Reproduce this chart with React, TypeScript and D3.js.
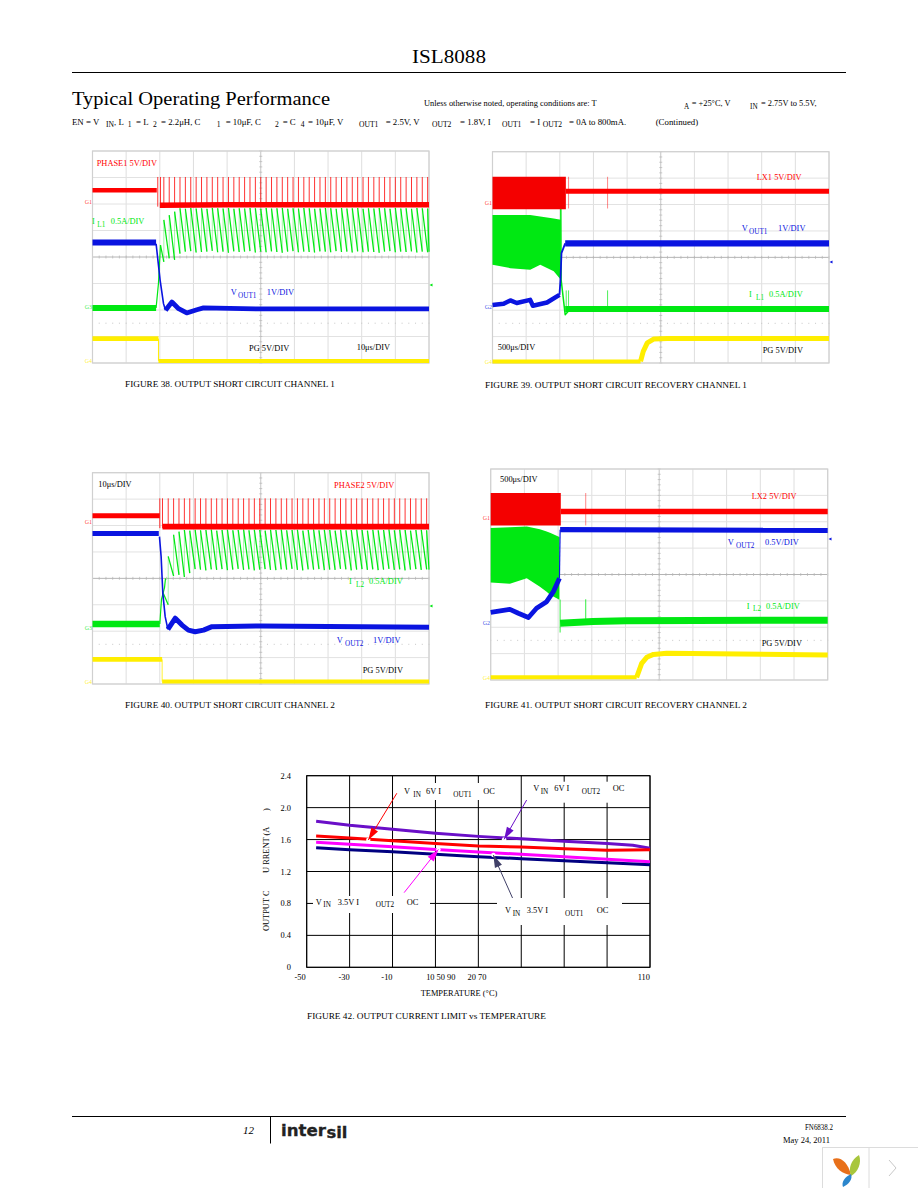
import * as d3 from "d3";

type Pt = [number, number];

// scope traces are in screen divisions: t 0..10 left to right, v 0..8 bottom to top
const pulses38 = [1.94, 2.02, 2.12, 2.28, 2.44, 2.6, 2.76, 2.92, 3.08, 3.24, 3.4, 3.56, 3.72, 3.88, 4.04, 4.2, 4.36, 4.52, 4.68, 4.84, 5.0, 5.16, 5.32, 5.48, 5.64, 5.8, 5.96, 6.12, 6.28, 6.44, 6.6, 6.76, 6.92, 7.08, 7.24, 7.4, 7.56, 7.72, 7.88, 8.04, 8.2, 8.36, 8.52, 8.68, 8.84, 9.0, 9.16, 9.32, 9.48, 9.64, 9.8, 9.96];
const peaks38 = [4.45, 5.4, 5.58, 5.71, 5.84, 5.82, 5.85, 5.83, 5.84, 5.82, 5.85, 5.84, 5.83, 5.85, 5.82, 5.84, 5.83, 5.85, 5.84, 5.82, 5.85, 5.83, 5.84, 5.85, 5.82, 5.84, 5.83, 5.85, 5.84, 5.82, 5.83, 5.85, 5.84, 5.82, 5.85, 5.83, 5.84, 5.85, 5.82, 5.84, 5.83, 5.85, 5.84, 5.82, 5.85, 5.83, 5.84, 5.82, 5.85, 5.84, 5.83];
const troughs38 = [3.82, 3.95, 3.89, 4.13, 4.2, 4.22, 4.17, 4.19, 4.2, 4.23, 4.18, 4.2, 4.16, 4.21, 4.19, 4.2, 4.22, 4.17, 4.2, 4.18, 4.21, 4.19, 4.16, 4.2, 4.22, 4.18, 4.2, 4.19, 4.17, 4.21, 4.2, 4.18, 4.22, 4.19, 4.2, 4.17, 4.21, 4.18, 4.2, 4.19, 4.16, 4.2, 4.22, 4.18, 4.2, 4.19, 4.21, 4.17, 4.2, 4.18, 4.2];
const redBefore38: Pt[] = [[0, 6.52], [1.91, 6.52]];
const redAfter38: Pt[] = [[2.0, 5.95], [4, 5.97], [10, 5.97]];
const blueBefore38: Pt[] = [[0, 4.55], [1.89, 4.55]];
const blueFall38: Pt[] = [[1.89, 4.5], [2.01, 3.12], [2.11, 2.24], [2.17, 1.99]];
const blueAfter38: Pt[] = [[2.17, 1.99], [2.36, 2.3], [2.56, 2.05], [2.8, 1.89], [3.1, 2.01], [3.3, 2.08], [4.99, 2.04], [6.97, 2.04], [10, 2.04]];
const greenBefore38: Pt[] = [[0, 2.08], [1.89, 2.08]];
const greenRise38: Pt[] = [[1.89, 2.08], [1.96, 3.0], [2.02, 4.45]];
const yellowBefore38: Pt[] = [[0, 0.92], [1.96, 0.92]];
const yellowDrop38: Pt[] = [[1.96, 0.92], [1.96, 0.08]];
const yellowAfter38: Pt[] = [[1.96, 0.08], [10, 0.08]];

const redBlock39: [number, number, number][] = [[0, 5.82, 7.05], [2.18, 5.82, 7.05]];
const redAfter39: Pt[] = [[2.18, 6.5], [10, 6.5]];
const redSpikes39 = [2.26, 3.42];
const greenBlock39: [number, number, number][] = [[0, 3.72, 5.6], [0.53, 3.59, 5.6], [1.12, 3.53, 5.6], [1.42, 3.72, 5.55], [1.82, 3.47, 5.47], [2.03, 3.15, 5.42]];
const greenFall39: Pt[] = [[2.03, 5.95], [2.04, 3.15], [2.16, 1.83], [2.3, 2.03]];
const greenAfter39: Pt[] = [[2.16, 2.04], [10, 2.04]];
const greenSpikes39 = [2.19, 2.26, 3.42];
const blueBefore39: Pt[] = [[0, 2.2], [0.33, 2.24], [0.53, 2.37], [0.72, 2.27], [1.12, 2.39], [1.2, 2.17], [1.62, 2.29], [1.99, 2.58]];
const blueRise39: Pt[] = [[1.99, 2.58], [2.02, 3.15], [2.05, 4.16], [2.16, 4.53]];
const blueAfter39: Pt[] = [[2.16, 4.53], [10, 4.53]];
const yellowBefore39: Pt[] = [[0, 0.06], [4.4, 0.06]];
const yellowRise39: Pt[] = [[4.4, 0.06], [4.48, 0.44], [4.6, 0.76], [4.8, 0.91], [5.19, 0.93], [10, 0.93]];

const pulses40 = [2.0, 2.08, 2.25, 2.41, 2.57, 2.73, 2.89, 3.05, 3.21, 3.37, 3.53, 3.69, 3.85, 4.01, 4.17, 4.33, 4.49, 4.65, 4.81, 4.97, 5.13, 5.29, 5.45, 5.61, 5.77, 5.93, 6.09, 6.25, 6.41, 6.57, 6.73, 6.89, 7.05, 7.21, 7.37, 7.53, 7.69, 7.85, 8.01, 8.17, 8.33, 8.49, 8.65, 8.81, 8.97, 9.13, 9.29, 9.45, 9.61, 9.77, 9.93];
const peaks40 = [3.5, 4.83, 5.65, 5.77, 5.83, 5.81, 5.84, 5.82, 5.83, 5.85, 5.81, 5.83, 5.84, 5.82, 5.83, 5.85, 5.82, 5.84, 5.83, 5.81, 5.84, 5.83, 5.85, 5.82, 5.83, 5.84, 5.81, 5.83, 5.85, 5.82, 5.84, 5.83, 5.81, 5.84, 5.82, 5.83, 5.85, 5.83, 5.81, 5.84, 5.82, 5.83, 5.85, 5.82, 5.84, 5.83, 5.81, 5.83, 5.84, 5.82];
const troughs40 = [3.0, 4.09, 4.13, 4.05, 4.2, 4.35, 4.33, 4.3, 4.34, 4.32, 4.35, 4.31, 4.33, 4.36, 4.32, 4.34, 4.3, 4.33, 4.35, 4.32, 4.31, 4.34, 4.33, 4.36, 4.32, 4.3, 4.34, 4.33, 4.35, 4.31, 4.33, 4.32, 4.36, 4.34, 4.3, 4.33, 4.35, 4.32, 4.34, 4.31, 4.33, 4.36, 4.32, 4.34, 4.3, 4.33, 4.35, 4.32, 4.34, 4.33];
const redBefore40: Pt[] = [[0, 6.37], [2.0, 6.37]];
const redAfter40: Pt[] = [[2.08, 5.96], [10, 5.96]];
const blueBefore40: Pt[] = [[0, 5.7], [1.97, 5.7]];
const blueFall40: Pt[] = [[1.99, 5.58], [2.04, 4.82], [2.09, 3.43], [2.16, 2.55], [2.24, 2.07]];
const blueAfter40: Pt[] = [[2.24, 2.07], [2.46, 2.49], [2.66, 2.23], [2.85, 2.04], [3.05, 1.98], [3.3, 2.04], [3.55, 2.17], [4.99, 2.2], [10, 2.15]];
const greenBefore40: Pt[] = [[0, 2.27], [2.0, 2.27]];
const greenRise40: Pt[] = [[2.0, 2.27], [2.05, 3.2], [2.14, 3.65], [2.17, 4.0]];
const yellowBefore40: Pt[] = [[0, 0.93], [2.07, 0.93]];
const yellowDrop40: Pt[] = [[2.07, 0.93], [2.07, 0.09]];
const yellowAfter40: Pt[] = [[2.07, 0.09], [10, 0.09]];

const redBlock41: [number, number, number][] = [[0, 5.86, 7.09], [2.08, 5.86, 7.09]];
const redAfter41: Pt[] = [[2.08, 6.39], [10, 6.39]];
const redSpikes41 = [2.82];
const greenBlock41: [number, number, number][] = [[0, 3.7, 5.76], [0.57, 3.65, 5.79], [1.07, 3.86, 5.82], [1.46, 3.54, 5.72], [1.66, 3.35, 5.63], [1.76, 3.23, 5.58], [2.04, 3.04, 5.42]];
const blueBefore41: Pt[] = [[0, 2.56], [0.57, 2.68], [0.82, 2.53], [1.12, 2.37], [1.36, 2.72], [1.66, 2.97], [1.86, 3.35], [2.04, 3.86]];
const blueRise41: Pt[] = [[2.04, 3.86], [2.06, 5.7]];
const blueAfter41: Pt[] = [[2.06, 5.7], [10, 5.67]];
const greenAfter41: Pt[] = [[2.06, 2.15], [3.03, 2.22], [4.02, 2.25], [10, 2.27]];
const greenSpikes41: [number, number, number][] = [[2.06, 1.8, 3.05], [2.82, 2.2, 3.06]];
const yellowBefore41: Pt[] = [[0, 0.1], [4.33, 0.1]];
const yellowRise41: Pt[] = [[4.33, 0.1], [4.48, 0.63], [4.63, 0.86], [4.83, 0.97], [5.22, 1.01], [10, 0.95]];

// figure 42
const tempTicks = [-50, -30, -10, 10, 30, 50, 70, 90, 110];
const tempLabels = ["-50", "-30", "-10", "10 50 90", "20 70", "", "", "", "110"];
const currentTicks = [0, 0.4, 0.8, 1.2, 1.6, 2.0, 2.4];
const currentLabels = ["0", "0.4", "0.8", "1.2", "1.6", "2.0", "2.4"];
const tempC = [-45.6, -30, -10, 10, 30, 50, 70, 90, 110];
const tempPurple = [-45.6, -30, -10, 10, 30, 50, 70, 90, 102, 110];
const vin6Out2 = [1.83, 1.78, 1.73, 1.68, 1.64, 1.61, 1.58, 1.55, 1.53, 1.49];
const vin6Out1 = [1.645, 1.62, 1.585, 1.55, 1.52, 1.507, 1.486, 1.465, 1.473];
const vin35Out2 = [1.565, 1.54, 1.51, 1.477, 1.444, 1.415, 1.386, 1.352, 1.323];
const vin35Out1 = [1.498, 1.473, 1.448, 1.415, 1.386, 1.36, 1.336, 1.31, 1.286];
// tail and tip of each callout arrow, temperature and current
const arrowRed = [[-8, 2.18], [-21.3, 1.594]];
const arrowPurple = [[52.5, 2.095], [42, 1.603]];
const arrowMagenta = [[-4.6, 0.935], [11.4, 1.477]];
const arrowNavy = [[46, 0.864], [37, 1.406]];

const RED = "#ff0000";
const GREEN = "#00e812";
const BLUE = "#0a14e0";
const YELLOW = "#ffee00";
const SERIF = "'Liberation Serif', serif";

type Frame = { left: number; top: number; right: number; bottom: number };

function scalesFor(f: Frame) {
  return {
    x: d3.scaleLinear().domain([0, 10]).range([f.left, f.right]),
    y: d3.scaleLinear().domain([0, 8]).range([f.bottom, f.top]),
  };
}

function Txt({ x, y, size = 8.4, fill = "#000", len, style, children }: any) {
  return (
    <text
      x={x}
      y={y}
      fontFamily={SERIF}
      fontSize={size}
      fill={fill}
      fontStyle={style}
      textLength={len}
      lengthAdjust={len ? "spacingAndGlyphs" : undefined}
    >
      {children}
    </text>
  );
}

// a run of text pieces at given x, pieces marked sub sit lower and smaller
function Run({ y, fill = "#000", parts, size = 8.4 }: { y: number; fill?: string; parts: [string, number, boolean?][]; size?: number }) {
  return (
    <g>
      {parts.map(([s, x, sub], i) => (
        <text key={i} x={x} y={sub ? y + 2.5 : y} fontFamily={SERIF} fontSize={sub ? size - 1.2 : size} fill={fill}>
          {s}
        </text>
      ))}
    </g>
  );
}

function Grid({ f }: { f: Frame }) {
  const { x, y } = scalesFor(f);
  const minor = d3.range(0, 10.01, 0.2);
  const minorY = d3.range(0, 8.01, 0.2);
  return (
    <g>
      {x.ticks(10).map((t) => (
        <line key={"v" + t} x1={x(t)} x2={x(t)} y1={f.top} y2={f.bottom} stroke={t === 5 ? "#c4c4c4" : "#dedede"} strokeWidth={1} />
      ))}
      {y.ticks(8).map((t) => (
        <line key={"h" + t} x1={f.left} x2={f.right} y1={y(t)} y2={y(t)} stroke={t === 4 ? "#b4b4b4" : "#e2e2e2"} strokeWidth={1} />
      ))}
      {minor.map((t) => (
        <line key={"m" + t} x1={x(t)} x2={x(t)} y1={y(4) - 1.5} y2={y(4) + 1.5} stroke="#b4b4b4" strokeWidth={0.7} />
      ))}
      {minorY.map((t) => (
        <line key={"n" + t} x1={x(5) - 1.5} x2={x(5) + 1.5} y1={y(t)} y2={y(t)} stroke="#b4b4b4" strokeWidth={0.7} />
      ))}
      {minor.map((t) => (
        <line key={"d" + t} x1={x(t)} x2={x(t)} y1={y(1.5) - 0.6} y2={y(1.5) + 0.6} stroke="#c4c4c4" strokeWidth={0.8} />
      ))}
      <rect x={f.left} y={f.top} width={f.right - f.left} height={f.bottom - f.top} fill="none" stroke="#d0d0d0" strokeWidth={1.2} />
    </g>
  );
}

function Scope({ f, children }: { f: Frame; children: any }) {
  return (
    <g>
      <Grid f={f} />
      {children}
    </g>
  );
}

function Trace({ f, data, color, w }: { f: Frame; data: Pt[]; color: string; w: number }) {
  const { x, y } = scalesFor(f);
  const line = d3.line<Pt>().x((d) => x(d[0])).y((d) => y(d[1]));
  return <path d={line(data) ?? ""} fill="none" stroke={color} strokeWidth={w} strokeLinejoin="round" />;
}

function Block({ f, data, color }: { f: Frame; data: [number, number, number][]; color: string }) {
  const { x, y } = scalesFor(f);
  const area = d3.area<[number, number, number]>().x((d) => x(d[0])).y0((d) => y(d[1])).y1((d) => y(d[2]));
  return <path d={area(data) ?? ""} fill={color} />;
}

function Pulses({ f, times, top, base, color }: { f: Frame; times: number[]; top: number; base: number; color: string }) {
  const { x, y } = scalesFor(f);
  return (
    <g>
      {times.map((t, i) => (
        <line key={i} x1={x(t)} x2={x(t)} y1={y(top)} y2={y(base)} stroke={color} strokeOpacity={0.8} strokeWidth={1} />
      ))}
    </g>
  );
}

// inductor current: fast thin rise at each pulse, slower bright fall to the next one
function Teeth({ f, times, peaks, troughs }: { f: Frame; times: number[]; peaks: number[]; troughs: number[] }) {
  const { x, y } = scalesFor(f);
  const line = d3.line<Pt>().x((d) => x(d[0])).y((d) => y(d[1]));
  const falls = peaks.map((p, i): Pt[] => [[times[i], p], [times[i + 1] ?? 10, troughs[i]]]);
  const rises = peaks.slice(1).map((p, i): Pt[] => [[times[i + 1], troughs[i]], [times[i + 1], p]]);
  return (
    <g>
      {rises.map((d, i) => (
        <path key={"r" + i} d={line(d) ?? ""} stroke={GREEN} strokeOpacity={0.45} strokeWidth={0.8} fill="none" />
      ))}
      {falls.map((d, i) => (
        <path key={"f" + i} d={line(d) ?? ""} stroke={GREEN} strokeWidth={1.25} fill="none" />
      ))}
    </g>
  );
}

function Marker({ x, y, fill, children }: any) {
  return (
    <text x={x} y={y} fontFamily={SERIF} fontSize={6} fill={fill} fillOpacity={0.8} textAnchor="end">
      {children}
    </text>
  );
}

function RightMark({ x, y, fill }: any) {
  return <path d={`M${x - 1.5},${y}L${x + 1.5},${y - 1.5}L${x + 1.5},${y + 1.5}Z`} fill={fill} />;
}

function Fig38() {
  const f = { left: 92.5, top: 151, right: 429, bottom: 363 };
  return (
    <Scope f={f}>
      <Teeth f={f} times={pulses38.slice(1)} peaks={peaks38} troughs={troughs38} />
      <Trace f={f} data={greenRise38} color={GREEN} w={1.2} />
      <Trace f={f} data={greenBefore38} color={GREEN} w={6} />
      <Pulses f={f} times={pulses38} top={7.02} base={5.9} color={RED} />
      <Trace f={f} data={redBefore38} color={RED} w={4.5} />
      <Trace f={f} data={redAfter38} color={RED} w={5.5} />
      <Trace f={f} data={blueBefore38} color={BLUE} w={6} />
      <Trace f={f} data={blueFall38} color={BLUE} w={1.6} />
      <Trace f={f} data={blueAfter38} color={BLUE} w={4.8} />
      <Trace f={f} data={yellowBefore38} color={YELLOW} w={4.8} />
      <Trace f={f} data={yellowDrop38} color={YELLOW} w={1} />
      <Trace f={f} data={yellowAfter38} color={YELLOW} w={4} />
      <Marker x={92} y={204} fill={RED}>G1</Marker>
      <Marker x={92} y={309} fill={GREEN}>G3</Marker>
      <Marker x={92} y={363} fill={YELLOW}>G4</Marker>
      <RightMark x={431} y={285} fill={GREEN} />
      <Run y={166} fill={RED} parts={[["PHASE1 5V/DIV", 96.7]]} />
      <Run y={224} fill={GREEN} parts={[["I", 92], ["L1", 97.3, true], ["0.5A/DIV", 110.7]]} />
      <Run y={295} fill={BLUE} parts={[["V", 230.7], ["OUT1", 238, true], ["1V/DIV", 266.7]]} />
      <Run y={350.5} parts={[["PG 5V/DIV", 249]]} />
      <Run y={350} parts={[["10μs/DIV", 356.7]]} />
    </Scope>
  );
}

function Fig39() {
  const f = { left: 492.5, top: 151.7, right: 829, bottom: 363 };
  const { x, y } = scalesFor(f);
  return (
    <Scope f={f}>
      <Block f={f} data={greenBlock39} color={GREEN} />
      <Trace f={f} data={greenFall39} color={GREEN} w={1.5} />
      <Trace f={f} data={greenAfter39} color={GREEN} w={6} />
      {greenSpikes39.map((t) => (
        <line key={t} x1={x(t)} x2={x(t)} y1={y(2.04)} y2={y(2.75)} stroke={GREEN} strokeWidth={0.7} />
      ))}
      <Block f={f} data={redBlock39} color="#f40000" />
      <Trace f={f} data={redAfter39} color={RED} w={5} />
      {redSpikes39.map((t) => (
        <line key={t} x1={x(t)} x2={x(t)} y1={y(7.05)} y2={y(5.85)} stroke={RED} strokeOpacity={0.6} strokeWidth={0.8} />
      ))}
      <Trace f={f} data={blueBefore39} color={BLUE} w={4.5} />
      <Trace f={f} data={blueRise39} color={BLUE} w={1.8} />
      <Trace f={f} data={blueAfter39} color={BLUE} w={6.2} />
      <Trace f={f} data={yellowBefore39} color={YELLOW} w={4} />
      <Trace f={f} data={yellowRise39} color={YELLOW} w={5} />
      <Marker x={492} y={205} fill={RED}>G1</Marker>
      <Marker x={492} y={309} fill={BLUE}>G2</Marker>
      <Marker x={492} y={364} fill={YELLOW}>G4</Marker>
      <RightMark x={831} y={262} fill={BLUE} />
      <Run y={179.7} fill={RED} parts={[["LX1 5V/DIV", 756.7]]} />
      <Run y={231} fill={BLUE} parts={[["V", 741.7], ["OUT1", 749, true], ["1V/DIV", 778]]} />
      <Run y={297} fill={GREEN} parts={[["I", 749], ["L1", 756, true], ["0.5A/DIV", 769]]} />
      <Run y={349.7} parts={[["500μs/DIV", 497.7]]} />
      <Run y={353} parts={[["PG 5V/DIV", 762.7]]} />
    </Scope>
  );
}

function Fig40() {
  const f = { left: 92.5, top: 472.7, right: 429, bottom: 684 };
  return (
    <Scope f={f}>
      <Teeth f={f} times={pulses40.slice(1)} peaks={peaks40} troughs={troughs40} />
      <Trace f={f} data={greenRise40} color={GREEN} w={1.2} />
      <Trace f={f} data={greenBefore40} color={GREEN} w={6.5} />
      <Pulses f={f} times={pulses40} top={7.03} base={5.9} color={RED} />
      <Trace f={f} data={redBefore40} color={RED} w={5} />
      <Trace f={f} data={redAfter40} color={RED} w={5.8} />
      <Trace f={f} data={blueBefore40} color={BLUE} w={5} />
      <Trace f={f} data={blueFall40} color={BLUE} w={1.6} />
      <Trace f={f} data={blueAfter40} color={BLUE} w={5} />
      <Trace f={f} data={yellowBefore40} color={YELLOW} w={4.8} />
      <Trace f={f} data={yellowDrop40} color={YELLOW} w={0.8} />
      <Trace f={f} data={yellowAfter40} color={YELLOW} w={4} />
      <Marker x={92} y={524} fill={RED}>G1</Marker>
      <Marker x={92} y={630} fill={GREEN}>G3</Marker>
      <Marker x={92} y={684} fill={YELLOW}>G4</Marker>
      <RightMark x={431} y={606} fill={GREEN} />
      <Run y={487} parts={[["10μs/DIV", 98.3]]} />
      <Run y={488} fill={RED} parts={[["PHASE2 5V/DIV", 334]]} />
      <Run y={584} fill={GREEN} parts={[["I", 349], ["L2", 356, true], ["0.5A/DIV", 369]]} />
      <Run y={643} fill={BLUE} parts={[["V", 336.7], ["OUT2", 345, true], ["1V/DIV", 373]]} />
      <Run y={673} parts={[["PG 5V/DIV", 362.7]]} />
    </Scope>
  );
}

function Fig41() {
  const f = { left: 490.7, top: 469, right: 827.7, bottom: 680 };
  const { x, y } = scalesFor(f);
  return (
    <Scope f={f}>
      <Block f={f} data={greenBlock41} color={GREEN} />
      <Trace f={f} data={greenAfter41} color={GREEN} w={7} />
      {greenSpikes41.map(([t, a, b]) => (
        <line key={t} x1={x(t)} x2={x(t)} y1={y(a)} y2={y(b)} stroke={GREEN} strokeWidth={0.8} />
      ))}
      <Block f={f} data={redBlock41} color="#f40000" />
      <Trace f={f} data={redAfter41} color={RED} w={5.5} />
      {redSpikes41.map((t) => (
        <line key={t} x1={x(t)} x2={x(t)} y1={y(7.09)} y2={y(5.86)} stroke={RED} strokeOpacity={0.6} strokeWidth={0.8} />
      ))}
      <Trace f={f} data={blueBefore41} color={BLUE} w={4.8} />
      <Trace f={f} data={blueRise41} color={BLUE} w={1.2} />
      <Trace f={f} data={blueAfter41} color={BLUE} w={5.2} />
      <Trace f={f} data={yellowBefore41} color={YELLOW} w={4} />
      <Trace f={f} data={yellowRise41} color={YELLOW} w={5} />
      <Marker x={490} y={520} fill={RED}>G1</Marker>
      <Marker x={490} y={625} fill={BLUE}>G2</Marker>
      <Marker x={490} y={680} fill={YELLOW}>G4</Marker>
      <RightMark x={830} y={539} fill={BLUE} />
      <Run y={482} parts={[["500μs/DIV", 500]]} />
      <Run y={499} fill={RED} parts={[["LX2 5V/DIV", 751.7]]} />
      <Run y={545} fill={BLUE} parts={[["V", 727.7], ["OUT2", 736, true], ["0.5V/DIV", 765]]} />
      <Run y={608.7} fill={GREEN} parts={[["I", 746.7], ["L2", 753, true], ["0.5A/DIV", 766]]} />
      <Run y={645.7} parts={[["PG 5V/DIV", 761.7]]} />
    </Scope>
  );
}

function Arrow({ pts, x, y, color }: { pts: number[][]; x: any; y: any; color: string }) {
  const [tail, tip] = pts;
  const x0 = x(tail[0]), y0 = y(tail[1]), x1 = x(tip[0]), y1 = y(tip[1]);
  const a = Math.atan2(y1 - y0, x1 - x0);
  const head = 13;
  const spread = 0.3;
  const p = (ang: number) => `${x1 - head * Math.cos(ang)},${y1 - head * Math.sin(ang)}`;
  return (
    <g>
      <circle cx={x1} cy={y1} r={2.2} fill="#fff" />
      <line x1={x0} y1={y0} x2={x1} y2={y1} stroke={color} strokeWidth={1} />
      <polygon points={`${x1},${y1} ${p(a + spread)} ${p(a - spread)}`} fill={color} />
    </g>
  );
}

function Fig42() {
  const x = d3.scaleLinear().domain([-50, 110]).range([306.7, 650]);
  const y = d3.scaleLinear().domain([0, 2.4]).range([967.3, 775.7]);
  const line = d3.line<number[]>().x((d) => x(d[0])).y((d) => y(d[1]));
  const path = (temps: number[], vals: number[]) => line(temps.map((t, i) => [t, vals[i]])) ?? "";
  const shift = [-1, 0, 0, 20, 8, 0, 0, 0, 0];
  return (
    <g>
      {tempTicks.map((t) => (
        <line key={t} x1={x(t)} x2={x(t)} y1={y(0)} y2={y(2.4)} stroke="#000" strokeWidth={1} />
      ))}
      {currentTicks.map((t) => (
        <line key={t} x1={x(-50)} x2={x(110)} y1={y(t)} y2={y(t)} stroke="#000" strokeWidth={1} />
      ))}
      <rect x={x(-50)} y={y(2.4)} width={x(110) - x(-50)} height={y(0) - y(2.4)} fill="none" stroke="#000" strokeWidth={1} />
      {currentLabels.map((s, i) => (
        <text key={s} x={291} y={y(currentTicks[i]) + 3} textAnchor="end" fontFamily={SERIF} fontSize={8.4}>
          {s}
        </text>
      ))}
      {tempLabels.map((s, i) => (
        <text key={i} x={x(tempTicks[i]) + shift[i]} y={980} textAnchor="end" fontFamily={SERIF} fontSize={8.4}>
          {s}
        </text>
      ))}
      <path d={path(tempPurple, vin6Out2)} fill="none" stroke="#6a0fc8" strokeWidth={3} />
      <path d={path(tempC, vin6Out1)} fill="none" stroke="#ff0000" strokeWidth={3} />
      <path d={path(tempC, vin35Out2)} fill="none" stroke="#ff00ff" strokeWidth={3} />
      <path d={path(tempC, vin35Out1)} fill="none" stroke="#000080" strokeWidth={3} />
      <Arrow pts={arrowRed} x={x} y={y} color="#ff0000" />
      <Arrow pts={arrowPurple} x={x} y={y} color="#6a0fc8" />
      <Arrow pts={arrowMagenta} x={x} y={y} color="#ff00ff" />
      <Arrow pts={arrowNavy} x={x} y={y} color="#404068" />

      <rect x={398} y={783} width={98} height={17} fill="#fff" />
      <rect x={528} y={781.7} width={97} height={21} fill="#fff" />
      <rect x={313} y={896} width={117} height={17} fill="#fff" />
      <rect x={497} y={898} width={125} height={27} fill="#fff" />
      <Run y={794} parts={[["V", 404], ["IN", 413.3, true], ["6V I", 426], ["OUT1", 453.3, true], ["OC", 483.3]]} />
      <Run y={791} parts={[["V", 533.3], ["IN", 540.7, true], ["6V I", 554.3], ["OUT2", 581.7, true], ["OC", 612.7]]} />
      <Run y={904.7} parts={[["V", 315.7], ["IN", 323.3, true], ["3.5V I", 337.7], ["OUT2", 375.7, true], ["OC", 406.7]]} />
      <Run y={913} parts={[["V", 505], ["IN", 512.7, true], ["3.5V I", 526.7], ["OUT1", 565, true], ["OC", 596.7]]} />

      <text transform="translate(269,931) rotate(-90)" fontFamily={SERIF} fontSize={8.4}>OUTPUT C</text>
      <text transform="translate(269,873) rotate(-90)" fontFamily={SERIF} fontSize={8.4}>U RRENT (A</text>
      <text transform="translate(269,811) rotate(-90)" fontFamily={SERIF} fontSize={8.4}>)</text>
      <text x={459} y={996} textAnchor="middle" fontFamily={SERIF} fontSize={8.4}>TEMPERATURE (°C)</text>
    </g>
  );
}

function Page() {
  return (
    <g>
      <text x={412} y={63} fontFamily={SERIF} fontSize={19.5} textLength={74} lengthAdjust="spacingAndGlyphs">ISL8088</text>
      <line x1={72} x2={846} y1={72.5} y2={72.5} stroke="#000" strokeWidth={1} />
      <Txt x={72} y={105} size={19.5} len={258}>Typical Operating Performance</Txt>
      <Run
        y={106}
        parts={[
          ["Unless otherwise noted, operating conditions are: T", 424],
          ["A", 684, true],
          ["= +25°C, V", 691.7],
          ["IN", 750, true],
          ["= 2.75V to 5.5V,", 761],
        ]}
      />
      <Run
        y={124.5}
        size={8.8}
        parts={[
          ["EN = V", 72],
          ["IN", 106, true],
          [", L", 114],
          ["1", 127.7, true],
          ["= L", 136],
          ["2", 153, true],
          ["= 2.2μH, C", 161],
          ["1", 216.7, true],
          ["= 10μF, C", 225.7],
          ["2", 275, true],
          ["= C", 282.7],
          ["4", 300.7, true],
          ["= 10μF, V", 308],
          ["OUT1", 359, true],
          ["= 2.5V, V", 385.7],
          ["OUT2", 432, true],
          ["= 1.8V, I", 460],
          ["OUT1", 502, true],
          ["= I", 530],
          ["OUT2", 542.7, true],
          ["= 0A to 800mA.", 569],
          ["(Continued)", 655.7],
        ]}
      />
      <Txt x={125} y={387} size={8.6} len={210}>FIGURE 38. OUTPUT SHORT CIRCUIT CHANNEL 1</Txt>
      <Txt x={485} y={388} size={8.6} len={262}>FIGURE 39. OUTPUT SHORT CIRCUIT RECOVERY CHANNEL 1</Txt>
      <Txt x={125} y={707.5} size={8.6} len={210}>FIGURE 40. OUTPUT SHORT CIRCUIT CHANNEL 2</Txt>
      <Txt x={485} y={708} size={8.6} len={262}>FIGURE 41. OUTPUT SHORT CIRCUIT RECOVERY CHANNEL 2</Txt>
      <Txt x={307} y={1018.7} size={8.6} len={239}>FIGURE 42. OUTPUT CURRENT LIMIT vs TEMPERATURE</Txt>

      <line x1={72} x2={846} y1={1116.5} y2={1116.5} stroke="#000" strokeWidth={1} />
      <line x1={270.5} x2={270.5} y1={1116.5} y2={1143.5} stroke="#000" strokeWidth={1} />
      <Txt x={243} y={1134} size={11} style="italic">12</Txt>
      <text x={281} y={1136} fontFamily="'DejaVu Sans', sans-serif" fontWeight={700} fontSize={15} fill="#222" stroke="#222" strokeWidth={0.3} textLength={45} lengthAdjust="spacingAndGlyphs">inter</text>
      <text x={326.5} y={1138} fontFamily="'DejaVu Sans', sans-serif" fontWeight={700} fontSize={15} fill="#222" stroke="#222" strokeWidth={0.3} textLength={21} lengthAdjust="spacingAndGlyphs">sil</text>
      <Txt x={805} y={1130} size={7.5} len={28}>FN6838.2</Txt>
      <Txt x={783} y={1143} size={7.5} len={47}>May 24, 2011</Txt>

      <rect x={822.5} y={1147.5} width={96} height={42} fill="#fff" stroke="#dcdcdc" strokeWidth={1} />
      <line x1={869} x2={869} y1={1147.5} y2={1188} stroke="#dcdcdc" strokeWidth={1} />
      <path d="M833,1159C840,1156 848,1162 851,1175C843,1174 835,1169 833,1159Z" fill="#e8701a" />
      <path d="M859,1155C862,1163 858,1172 851,1176C848,1168 851,1160 859,1155Z" fill="#a8c63c" />
      <path d="M851,1174C853,1179 849,1184 843,1187C841,1182 845,1177 851,1174Z" fill="#2c86cc" />
      <path d="M889,1160L896,1168L889,1176" fill="none" stroke="#c8c8c8" strokeWidth={1} />
    </g>
  );
}

export default function App() {
  return (
    <svg width={918} height={1188} style={{ position: "absolute", left: 0, top: 0, background: "#fff" }}>
      <Page />
      <Fig38 />
      <Fig39 />
      <Fig40 />
      <Fig41 />
      <Fig42 />
    </svg>
  );
}
